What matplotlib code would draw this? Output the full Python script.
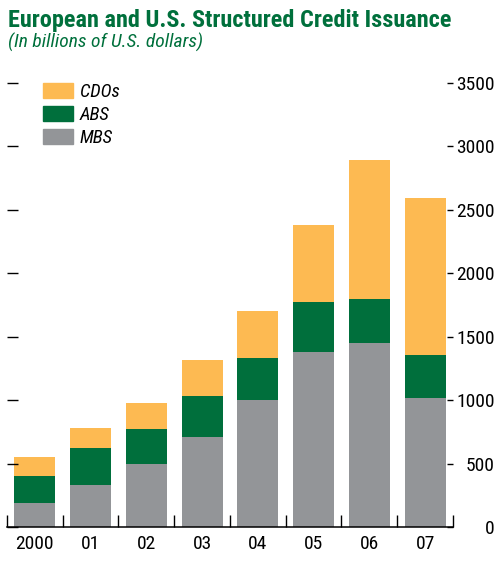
import numpy as np
import matplotlib
matplotlib.use("Agg")
import matplotlib.pyplot as plt
from matplotlib.patches import Patch

plt.rcParams['font.family'] = ['Roboto Condensed', 'DejaVu Sans']

# datos (miles de millones de USD)
years = ['2000', '01', '02', '03', '04', '05', '06', '07']
mbs = [190, 330, 500, 710, 1000, 1380, 1450, 1020]
abs_ = [210, 290, 270, 320, 330, 395, 350, 335]
cdos = [150, 160, 205, 285, 370, 605, 1095, 1235]
yticks = [0, 500, 1000, 1500, 2000, 2500, 3000, 3500]

c_cdo = '#fdba52'
c_abs = '#006f3c'
c_mbs = '#939598'
c_title = '#00703c'

fig = plt.figure(figsize=(5.02, 5.63), dpi=100)
ax = fig.add_axes([7/502, 1 - 527/563, 446/502, 444/563])

x = np.arange(len(years))
w = 0.735
mbs_a = np.array(mbs)
abs_a = np.array(abs_)
ax.bar(x, mbs, w, color=c_mbs, label='MBS')
ax.bar(x, abs_, w, bottom=mbs_a, color=c_abs, label='ABS')
ax.bar(x, cdos, w, bottom=mbs_a + abs_a, color=c_cdo, label='CDOs')

ax.set_xlim(-0.5, len(years) - 0.5)
ax.set_ylim(0, 3500)

for s in ['top', 'left', 'right']:
    ax.spines[s].set_visible(False)
ax.spines['bottom'].set_linewidth(1.1)

# eje x: etiquetas centradas, marcas entre categorías
ax.set_xticks(x)
ax.set_xticklabels(years)
ax.set_xticks(np.arange(len(years) + 1) - 0.5, minor=True)
ax.tick_params(axis='x', which='major', length=0, pad=6, labelsize=14)
ax.tick_params(axis='x', which='minor', direction='in', length=9, width=1)

# eje y izquierdo: solo marcas
ax.set_yticks(yticks)
ax.tick_params(axis='y', left=True, right=False, labelleft=False,
               direction='in', length=8, width=1)

# eje y derecho con etiquetas
ax2 = ax.twinx()
ax2.set_ylim(0, 3500)
ax2.set_yticks(yticks)
ax2.set_yticklabels([str(t) for t in yticks])
for s in ['top', 'left', 'right', 'bottom']:
    ax2.spines[s].set_visible(False)
ax2.tick_params(axis='y', right=True, direction='in', length=4, width=1,
                labelsize=14, pad=30)
for lbl in ax2.get_yticklabels():
    lbl.set_ha('right')

handles = [Patch(color=c_cdo), Patch(color=c_abs), Patch(color=c_mbs)]
leg = ax.legend(handles, ['CDOs', 'ABS', 'MBS'], loc='upper left',
                bbox_to_anchor=(36/446, 1.0), frameon=False,
                borderaxespad=0, borderpad=0,
                prop={'style': 'italic', 'size': 13.5},
                handlelength=1.6, handleheight=0.87, labelspacing=0.27,
                handletextpad=0.35)

fig.text(0.016, 1 - 27/563, 'European and U.S. Structured Credit Issuance',
         color=c_title, fontsize=17.5, fontweight='bold', va='baseline')
fig.text(0.016, 1 - 48/563, '(In billions of U.S. dollars)',
         color=c_title, fontsize=14, style='italic', va='baseline')

fig.savefig('out.png', dpi=100)
